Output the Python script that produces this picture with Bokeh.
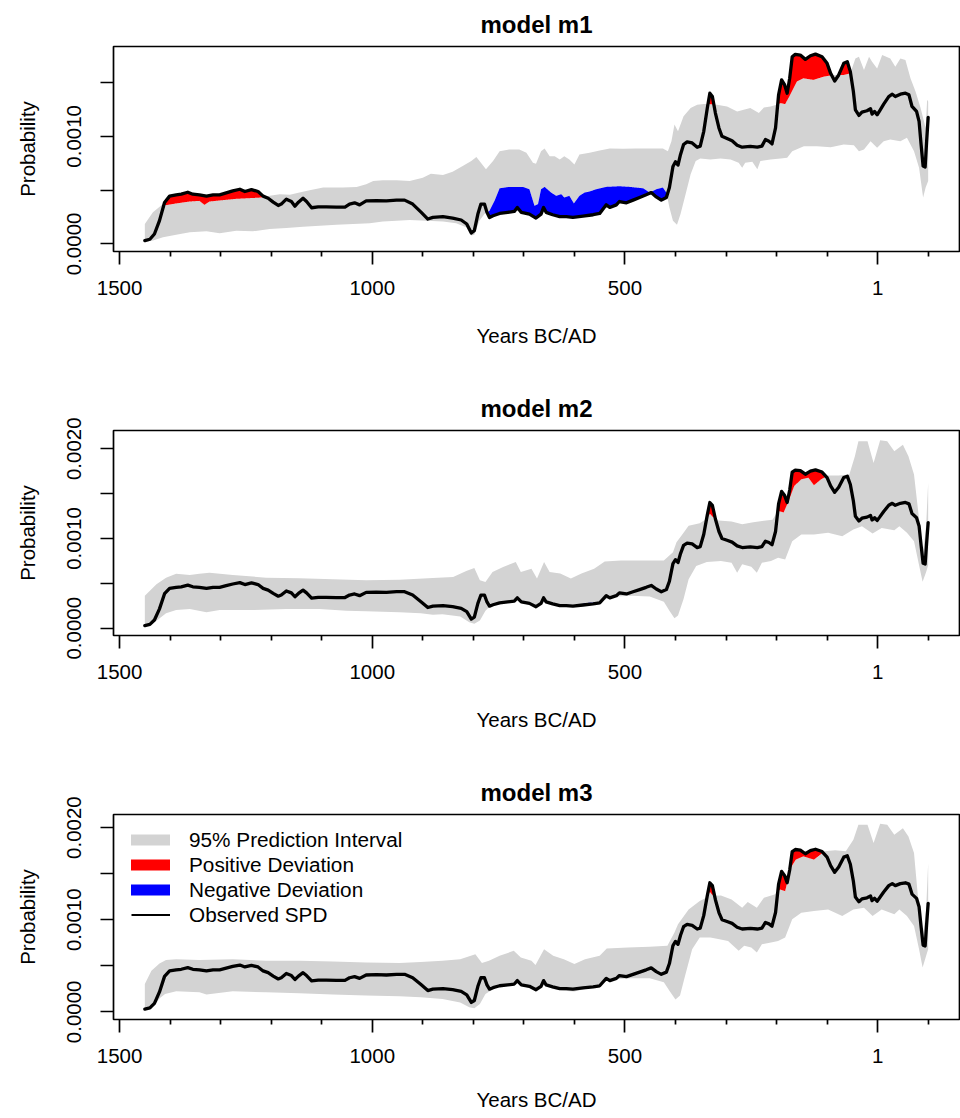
import numpy as np
from bokeh.plotting import figure
from bokeh.models import Range1d, FixedTicker, Legend, LegendItem
from bokeh.layouts import column
from bokeh.embed import file_html
from bokeh.resources import INLINE

FONT = "Liberation Sans"

# ---------------- data (years BC positive, AD negative) ----------------
spd_years = [1450, 1440, 1431, 1421, 1411, 1401, 1388, 1378, 1365, 1355, 1342, 1328, 1315, 1302, 1289, 1276,
             1262, 1252, 1239, 1226, 1216, 1206, 1196, 1186, 1180, 1170, 1160, 1153, 1146, 1137, 1130, 1120,
             1107, 1091, 1071, 1054, 1045, 1035, 1025, 1012, 992, 972, 952, 936, 920, 903, 890, 880, 860,
             841, 824, 813, 804, 798, 791, 785, 778, 773, 768, 761, 748, 732, 719, 713, 705, 689, 676, 666,
             661, 656, 643, 629, 616, 603, 583, 563, 550, 537, 530, 517, 511, 497, 484, 471, 458, 448, 438,
             428, 418, 412, 405, 400, 395, 390, 384, 377, 367, 357, 351, 344, 337, 332, 327, 321, 314, 308,
             298, 288, 278, 268, 252, 238, 229, 222, 215, 209, 202, 196, 190, 184, 179, 174, 169, 163, 153,
             143, 133, 123, 110, 100, 93, 85, 77, 67, 60, 54, 48, 44, 37, 31, 21, 14, 11, 6, 1, -4, -12,
             -22, -29, -35, -45, -55, -62, -68, -77, -82, -86, -90, -94, -97, -100]
spd_vals = [0.000030, 0.000043, 0.000092, 0.000216, 0.000385, 0.000444, 0.000456, 0.000462, 0.000480, 0.000462,
            0.000456, 0.000444, 0.000456, 0.000456, 0.000474, 0.000493, 0.000508, 0.000487, 0.000505, 0.000487,
            0.000444, 0.000425, 0.000388, 0.000357, 0.000370, 0.000416, 0.000394, 0.000351, 0.000388, 0.000425,
            0.000394, 0.000336, 0.000345, 0.000345, 0.000342, 0.000342, 0.000370, 0.000382, 0.000363, 0.000400,
            0.000403, 0.000400, 0.000407, 0.000407, 0.000370, 0.000293, 0.000231, 0.000246, 0.000253, 0.000240,
            0.000222, 0.000185, 0.000102, 0.000123, 0.000277, 0.000370, 0.000370, 0.000293, 0.000246, 0.000262,
            0.000283, 0.000293, 0.000302, 0.000339, 0.000293, 0.000277, 0.000240, 0.000277, 0.000339, 0.000293,
            0.000271, 0.000253, 0.000253, 0.000246, 0.000259, 0.000271, 0.000283, 0.000363, 0.000339, 0.000363,
            0.000394, 0.000382, 0.000407, 0.000431, 0.000456, 0.000477, 0.000437, 0.000407, 0.000431, 0.000524,
            0.000720, 0.000764, 0.000733, 0.000832, 0.000924, 0.000949, 0.000939, 0.000899, 0.000909, 0.001047,
            0.001263, 0.001401, 0.001370, 0.001217, 0.001078, 0.001000, 0.000980, 0.000960, 0.000918, 0.000899,
            0.000906, 0.000899, 0.000909, 0.000970, 0.000955, 0.000930, 0.001078, 0.001386, 0.001525, 0.001478,
            0.001401, 0.001540, 0.001740, 0.001762, 0.001756, 0.001716, 0.001750, 0.001765, 0.001740, 0.001679,
            0.001586, 0.001515, 0.001571, 0.001679, 0.001694, 0.001602, 0.001417, 0.001247, 0.001195, 0.001226,
            0.001238, 0.001257, 0.001207, 0.001232, 0.001201, 0.001238, 0.001300, 0.001370, 0.001392, 0.001370,
            0.001392, 0.001401, 0.001386, 0.001278, 0.001232, 0.001140, 0.000924, 0.000724, 0.000715, 0.000955,
            0.001177]

# model m1 envelope
m1_hi_years = [1450, 1434, 1414, 1408, 1388, 1361, 1342, 1332, 1322, 1295, 1269, 1243, 1220, 1203, 1183, 1163,
               1144, 1124, 1097, 1058, 1031, 1012, 998, 979, 952, 926, 900, 884, 860, 841, 821, 804, 794, 785,
               775, 761, 748, 729, 709, 695, 682, 676, 666, 659, 649, 639, 629, 620, 610, 600, 590, 570, 550,
               530, 504, 478, 451, 425, 415, 408, 402, 395, 384, 370, 357, 344, 332, 318, 298, 278, 265, 252,
               235, 225, 212, 200, 192, 183, 173, 160, 147, 127, 107, 87, 67, 54, 44, 37, 27, 17, 11, 1, -9,
               -25, -35, -45, -55, -65, -75, -85, -95, -98, -100]
m1_hi_vals = [0.000185, 0.000293, 0.000370, 0.000360, 0.000376, 0.000394, 0.000400, 0.000363, 0.000394, 0.000407,
              0.000419, 0.000425, 0.000431, 0.000447, 0.000462, 0.000456, 0.000477, 0.000499, 0.000524, 0.000524,
              0.000530, 0.000554, 0.000585, 0.000591, 0.000591, 0.000585, 0.000616, 0.000653, 0.000641, 0.000671,
              0.000724, 0.000770, 0.000807, 0.000755, 0.000693, 0.000770, 0.000862, 0.000878, 0.000878, 0.000847,
              0.000755, 0.000745, 0.000862, 0.000887, 0.000816, 0.000816, 0.000785, 0.000816, 0.000785, 0.000739,
              0.000832, 0.000847, 0.000869, 0.000887, 0.000884, 0.000887, 0.000887, 0.000887, 0.000862, 0.000955,
              0.001110, 0.001047, 0.001186, 0.001263, 0.001294, 0.001300, 0.001300, 0.001294, 0.001278, 0.001232,
              0.001247, 0.001263, 0.001217, 0.001269, 0.001278, 0.001294, 0.001309, 0.001300, 0.001386, 0.001509,
              0.001540, 0.001525, 0.001555, 0.001571, 0.001571, 0.001586, 0.001725, 0.001740, 0.001617, 0.001740,
              0.001694, 0.001632, 0.001756, 0.001725, 0.001648, 0.001725, 0.001710, 0.001540, 0.001417, 0.001263,
              0.001078, 0.001340, 0.001325]
m1_lo_years = [1450, 1434, 1414, 1388, 1361, 1328, 1302, 1269, 1236, 1203, 1170, 1137, 1104, 1071, 1038, 1005,
               979, 952, 926, 893, 860, 834, 814, 804, 798, 788, 778, 768, 758, 748, 729, 702, 689, 679, 672,
               666, 659, 646, 636, 626, 620, 610, 601, 590, 580, 570, 557, 537, 511, 491, 464, 451, 438, 425,
               418, 412, 405, 397, 390, 380, 370, 360, 351, 331, 311, 291, 275, 268, 262, 248, 238, 232, 212,
               192, 179, 169, 146, 120, 93, 67, 47, 37, 27, 14, 1, -12, -25, -45, -58, -72, -82, -90, -95, -100]
m1_lo_vals = [0.000015, 0.000031, 0.000062, 0.000086, 0.000108, 0.000117, 0.000099, 0.000123, 0.000117, 0.000139,
              0.000148, 0.000160, 0.000169, 0.000179, 0.000185, 0.000191, 0.000209, 0.000216, 0.000222, 0.000215,
              0.000209, 0.000191, 0.000154, 0.000077, 0.000086, 0.000216, 0.000277, 0.000308, 0.000400, 0.000517,
              0.000530, 0.000530, 0.000508, 0.000354, 0.000370, 0.000508, 0.000530, 0.000477, 0.000447, 0.000462,
              0.000431, 0.000447, 0.000376, 0.000447, 0.000477, 0.000487, 0.000508, 0.000530, 0.000536, 0.000530,
              0.000517, 0.000477, 0.000508, 0.000524, 0.000477, 0.000339, 0.000216, 0.000179, 0.000277, 0.000462,
              0.000647, 0.000770, 0.000795, 0.000785, 0.000795, 0.000785, 0.000755, 0.000708, 0.000755, 0.000764,
              0.000693, 0.000770, 0.000785, 0.000795, 0.000801, 0.000862, 0.000909, 0.000909, 0.000899, 0.000924,
              0.000918, 0.000862, 0.000878, 0.000955, 0.000893, 0.000955, 0.000970, 0.000955, 0.000986, 0.000862,
              0.000708, 0.000431, 0.000524, 0.000585]

# model m2 envelope
m2_hi_years = [1450, 1427, 1408, 1388, 1361, 1342, 1322, 1276, 1210, 1144, 1078, 1012, 946, 880, 840, 814, 798,
               787, 776, 762, 741, 716, 706, 685, 674, 660, 649, 628, 607, 586, 561, 540, 508, 465, 423, 405,
               398, 388, 374, 352, 338, 332, 326, 315, 289, 268, 246, 225, 208, 197, 186, 176, 165, 151, 137,
               126, 112, 98, 77, 56, 45, 38, 20, 8, -5, -19, -33, -50, -61, -72, -82, -89, -96, -100]
m2_hi_vals = [0.000361, 0.000491, 0.000564, 0.000608, 0.000593, 0.000608, 0.000619, 0.000593, 0.000564, 0.000557,
              0.000546, 0.000535, 0.000540, 0.000560, 0.000571, 0.000638, 0.000671, 0.000535, 0.000516, 0.000627,
              0.000682, 0.000738, 0.000627, 0.000664, 0.000553, 0.000738, 0.000627, 0.000609, 0.000553, 0.000609,
              0.000664, 0.000745, 0.000756, 0.000756, 0.000756, 0.000848, 0.000958, 0.001032, 0.001143, 0.001170,
              0.001220, 0.001275, 0.001240, 0.001200, 0.001190, 0.001160, 0.001180, 0.001198, 0.001209, 0.001308,
              0.001290, 0.001419, 0.001585, 0.001659, 0.001677, 0.001593, 0.001659, 0.001702, 0.001702, 0.001713,
              0.001916, 0.002082, 0.002082, 0.001842, 0.002093, 0.002082, 0.001971, 0.002045, 0.001916, 0.001713,
              0.001216, 0.000800, 0.001143, 0.001621]
m2_lo_years = [1450, 1427, 1408, 1388, 1361, 1328, 1302, 1236, 1170, 1104, 1051, 1012, 946, 904, 880, 861, 826,
               808, 798, 787, 776, 762, 734, 713, 692, 674, 660, 642, 621, 600, 579, 554, 536, 515, 487, 451,
               423, 412, 402, 395, 384, 374, 359, 338, 310, 289, 278, 268, 250, 239, 229, 211, 197, 183, 169,
               151, 126, 98, 70, 48, 31, 10, -8, -33, -43, -58, -72, -82, -89, -96, -100]
m2_lo_vals = [0.000025, 0.000085, 0.000166, 0.000203, 0.000214, 0.000177, 0.000203, 0.000203, 0.000214, 0.000214,
              0.000196, 0.000190, 0.000178, 0.000167, 0.000150, 0.000155, 0.000130, 0.000067, 0.000049, 0.000086,
              0.000196, 0.000270, 0.000296, 0.000325, 0.000281, 0.000222, 0.000325, 0.000259, 0.000251, 0.000233,
              0.000281, 0.000288, 0.000325, 0.000355, 0.000362, 0.000355, 0.000296, 0.000196, 0.000112, 0.000141,
              0.000325, 0.000546, 0.000693, 0.000738, 0.000749, 0.000730, 0.000619, 0.000712, 0.000686, 0.000619,
              0.000730, 0.000749, 0.000786, 0.000767, 0.000970, 0.001044, 0.001044, 0.001063, 0.001025, 0.001099,
              0.001136, 0.001055, 0.001118, 0.001092, 0.001136, 0.001063, 0.000970, 0.000701, 0.000517, 0.000627,
              0.000701]

# model m3 envelope
m3_hi_years = [1450, 1437, 1421, 1408, 1388, 1342, 1276, 1210, 1144, 1078, 1012, 946, 904, 861, 826, 805, 796,
               783, 769, 748, 720, 706, 685, 677, 660, 642, 621, 600, 579, 550, 536, 494, 451, 416, 402, 395,
               374, 352, 338, 332, 325, 310, 289, 268, 257, 239, 225, 204, 193, 183, 172, 162, 147, 126, 105,
               84, 63, 48, 38, 20, 8, -5, -19, -33, -50, -61, -72, -82, -89, -96, -100]
m3_hi_vals = [0.000302, 0.000446, 0.000525, 0.000562, 0.000572, 0.000562, 0.000572, 0.000554, 0.000554, 0.000547,
              0.000536, 0.000530, 0.000540, 0.000554, 0.000572, 0.000608, 0.000626, 0.000529, 0.000554, 0.000608,
              0.000662, 0.000590, 0.000554, 0.000508, 0.000680, 0.000608, 0.000572, 0.000518, 0.000572, 0.000608,
              0.000687, 0.000698, 0.000706, 0.000716, 0.000860, 0.000950, 0.001112, 0.001202, 0.001240, 0.001300,
              0.001260, 0.001264, 0.001220, 0.001130, 0.001192, 0.001130, 0.001238, 0.001274, 0.001328, 0.001310,
              0.001562, 0.001652, 0.001688, 0.001652, 0.001742, 0.001753, 0.001742, 0.001868, 0.002030, 0.002030,
              0.001832, 0.002041, 0.002030, 0.001922, 0.001994, 0.001904, 0.001724, 0.001112, 0.000780, 0.001112,
              0.001616]
m3_lo_years = [1450, 1440, 1430, 1420, 1410, 1388, 1342, 1328, 1276, 1210, 1144, 1078, 1012, 946, 904, 861, 826,
               808, 798, 787, 776, 755, 734, 713, 692, 674, 660, 642, 621, 600, 579, 554, 536, 515, 487, 451,
               423, 412, 400, 391, 381, 367, 352, 331, 313, 296, 275, 264, 250, 239, 229, 211, 197, 183, 169,
               151, 126, 98, 70, 48, 27, 10, -8, -33, -43, -58, -72, -82, -89, -96, -100]
m3_lo_vals = [0.000020, 0.000040, 0.000080, 0.000150, 0.000194, 0.000223, 0.000212, 0.000187, 0.000223, 0.000212,
              0.000202, 0.000187, 0.000176, 0.000170, 0.000158, 0.000140, 0.000100, 0.000050, 0.000040, 0.000086,
              0.000194, 0.000266, 0.000292, 0.000313, 0.000266, 0.000220, 0.000302, 0.000248, 0.000230, 0.000220,
              0.000248, 0.000266, 0.000338, 0.000356, 0.000364, 0.000364, 0.000320, 0.000230, 0.000133, 0.000176,
              0.000392, 0.000680, 0.000806, 0.000806, 0.000788, 0.000770, 0.000662, 0.000716, 0.000698, 0.000644,
              0.000734, 0.000752, 0.000770, 0.000806, 0.001004, 0.001076, 0.001094, 0.001112, 0.001040, 0.001112,
              0.001130, 0.001040, 0.001112, 0.001058, 0.001112, 0.001040, 0.000932, 0.000680, 0.000482, 0.000608,
              0.000680]

x_major_ticks = [1500, 1000, 500, 0]
x_major_labels = ["1500", "1000", "500", "1"]
x_minor_ticks = [1400, 1300, 1200, 1100, 900, 800, 700, 600, 400, 300, 200, 100, -100]

titles = ["model m1", "model m2", "model m3"]
legend_labels = ["95% Prediction Interval", "Positive Deviation", "Negative Deviation", "Observed SPD"]

GREY = "#d3d3d3"
RED = "#ff0000"
BLUE = "#0000ff"


def interp_desc(grid, yrs, vals):
    yrs = np.asarray(yrs, float)[::-1]
    vals = np.asarray(vals, float)[::-1]
    return np.interp(grid, yrs, vals)


def make_panel(title, hi_y, hi_v, lo_y, lo_v, yr, yticks, ylabels, height, border_bottom, xlab_standoff,
               legend=False):
    p = figure(width=960, height=height, x_range=Range1d(1512, -162), y_range=Range1d(*yr),
               output_backend="svg", toolbar_location=None,
               min_border_left=113, min_border_right=1, min_border_top=45, min_border_bottom=border_bottom)
    p.xgrid.visible = False
    p.ygrid.visible = False
    p.outline_line_color = "black"
    p.outline_line_width = 1.7
    p.background_fill_color = "white"
    p.border_fill_color = "white"

    # prediction envelope
    xs = list(hi_y) + list(lo_y)[::-1]
    ys = list(hi_v) + list(lo_v)[::-1]
    p.patch(xs, ys, fill_color=GREY, line_color=None)

    # deviations (observed SPD outside the envelope)
    grid = np.arange(-100, 1450.25, 0.5)
    s = interp_desc(grid, spd_years, spd_vals)
    h = interp_desc(grid, hi_y, hi_v)
    l = interp_desc(grid, lo_y, lo_v)
    p.varea(x=grid, y1=h, y2=np.maximum(s, h), fill_color=RED)
    p.varea(x=grid, y1=np.minimum(s, l), y2=l, fill_color=BLUE)

    p.line(spd_years, spd_vals, line_color="black", line_width=3.3, line_join="round", line_cap="round")

    xa = p.xaxis[0]
    xa.ticker = FixedTicker(ticks=x_major_ticks, minor_ticks=x_minor_ticks)
    xa.major_label_overrides = {t: lab for t, lab in zip(x_major_ticks, x_major_labels)}
    ya = p.yaxis[0]
    ya.ticker = FixedTicker(ticks=yticks, minor_ticks=[])
    ya.major_label_overrides = {t: lab for t, lab in zip(yticks, ylabels)}
    ya.major_label_orientation = "parallel"
    for ax in (xa, ya):
        ax.axis_line_color = None
        ax.major_tick_out = 13
        ax.major_tick_in = 0
        ax.minor_tick_out = 5
        ax.minor_tick_in = 0
        ax.major_tick_line_width = 1.7
        ax.minor_tick_line_width = 1.7
        ax.major_tick_line_color = "black"
        ax.minor_tick_line_color = "black"
        ax.major_label_text_font = FONT
        ax.major_label_text_font_size = "20.5px"
        ax.major_label_text_color = "black"
        ax.axis_label_text_font = FONT
        ax.axis_label_text_font_size = "20.5px"
        ax.axis_label_text_font_style = "normal"
        ax.axis_label_text_color = "black"
    xa.major_label_standoff = 16
    xa.axis_label = "Years BC/AD"
    xa.axis_label_standoff = xlab_standoff
    ya.major_label_standoff = 19
    ya.axis_label = "Probability"
    ya.axis_label_standoff = 26

    p.title.text = title
    p.title.align = "center"
    p.title.text_font = FONT
    p.title.text_font_size = "24px"
    p.title.text_font_style = "bold"
    p.title.text_color = "black"
    p.title.standoff = 17

    if legend:
        nan = [float("nan")]
        r1 = p.line(nan, nan, line_color=GREY, line_width=11, line_cap="round")
        r2 = p.line(nan, nan, line_color=RED, line_width=11, line_cap="round")
        r3 = p.line(nan, nan, line_color=BLUE, line_width=11, line_cap="round")
        r4 = p.line(nan, nan, line_color="black", line_width=1.8)
        items = [LegendItem(label=lab, renderers=[r]) for lab, r in zip(legend_labels, [r1, r2, r3, r4])]
        lg = Legend(items=items, location=(18, 92), glyph_width=39, glyph_height=25, label_height=25,
                    spacing=0, padding=0, margin=0, label_standoff=19, border_line_color=None,
                    background_fill_alpha=0, label_text_font=FONT, label_text_font_size="20.75px",
                    label_text_color="black")
        p.add_layout(lg)
    return p


p1 = make_panel(titles[0], m1_hi_years, m1_hi_vals, m1_lo_years, m1_lo_vals, (-0.0000709, 0.0018357),
                [0, 0.0005, 0.001, 0.0015], ["0.0000", "", "0.0010", ""], 384, 133, 26)
p2 = make_panel(titles[1], m2_hi_years, m2_hi_vals, m2_lo_years, m2_lo_vals, (-0.0000807, 0.002203),
                [0, 0.0005, 0.001, 0.0015, 0.002], ["0.0000", "", "0.0010", "", "0.0020"], 384, 133, 26)
p3 = make_panel(titles[2], m3_hi_years, m3_hi_vals, m3_lo_years, m3_lo_vals, (-0.0000832, 0.002142),
                [0, 0.0005, 0.001, 0.0015, 0.002], ["0.0000", "", "0.0010", "", "0.0020"], 350, 99, 22,
                legend=True)

layout = column(p1, p2, p3, spacing=0)
open("out.html", "w").write(file_html(layout, INLINE))
